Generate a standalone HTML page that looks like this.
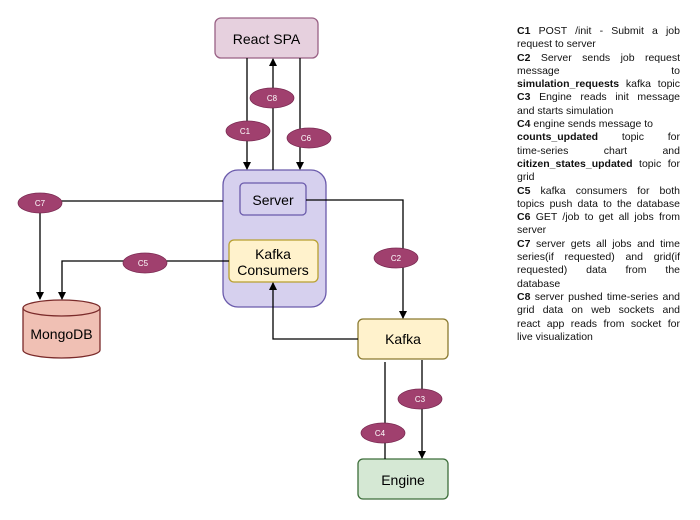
<!DOCTYPE html>
<html><head><style>
body{margin:0;width:700px;height:520px;background:#fff;position:relative;overflow:hidden;font-family:"Liberation Sans",sans-serif}
svg{position:absolute;left:0;top:0}
#t{position:absolute;left:517px;top:25px;width:163px;font-size:10.5px;line-height:13.3px;color:#111}
#t div{white-space:nowrap;height:13.3px}
#t .j{text-align:justify;text-align-last:justify;white-space:normal;overflow:hidden}
</style></head><body>
<svg width="700" height="520" viewBox="0 0 700 520">
<defs><marker id="a" markerWidth="8" markerHeight="8" refX="7" refY="4" orient="auto" markerUnits="userSpaceOnUse"><path d="M0,0 L8,4 L0,8 z" fill="#000"/></marker></defs>
<g font-family="Liberation Sans, sans-serif">
<rect x="215" y="18" width="103" height="40" rx="6" fill="#e6d0de" stroke="#996185" stroke-width="1.3"/>
<text x="266.5" y="44" font-size="14" text-anchor="middle">React SPA</text>
<rect x="223" y="170" width="103" height="137" rx="15" fill="#d6d0ee" stroke="#6a5aab" stroke-width="1.3"/>
<rect x="240" y="183" width="66" height="32" rx="4" fill="#d6d0ee" stroke="#6a5aab" stroke-width="1.3"/>
<text x="273" y="205" font-size="14" text-anchor="middle">Server</text>
<rect x="229" y="240" width="89" height="42" rx="5" fill="#fff2cc" stroke="#b8a030" stroke-width="1.3"/>
<text x="273" y="259" font-size="14" text-anchor="middle">Kafka</text>
<text x="273" y="275" font-size="14" text-anchor="middle">Consumers</text>
<rect x="358" y="319" width="90" height="40" rx="5" fill="#fff2cc" stroke="#8a7a30" stroke-width="1.3"/>
<text x="403" y="344" font-size="14" text-anchor="middle">Kafka</text>
<rect x="358" y="459" width="90" height="40" rx="5" fill="#d5e8d4" stroke="#3d6e3a" stroke-width="1.3"/>
<text x="403" y="485" font-size="14" text-anchor="middle">Engine</text>
<path d="M23,308 L23,350 A38.5,8 0 0 0 100,350 L100,308" fill="#f0c0b4" stroke="#7a2a2a" stroke-width="1.3"/>
<ellipse cx="61.5" cy="308" rx="38.5" ry="8" fill="#f0c0b4" stroke="#7a2a2a" stroke-width="1.3"/>
<text x="61.5" y="339" font-size="14" text-anchor="middle">MongoDB</text>
<g stroke="#000" stroke-width="1.3" fill="none">
<path d="M247,58 V169" marker-end="url(#a)"/>
<path d="M273,170 V59" marker-end="url(#a)"/>
<path d="M300,58 V169" marker-end="url(#a)"/>
<path d="M223,201 H40 V299" marker-end="url(#a)"/>
<path d="M229,261 H62 V299" marker-end="url(#a)"/>
<path d="M306,200 H403 V318" marker-end="url(#a)"/>
<path d="M358,339 H273 V283" marker-end="url(#a)"/>
<path d="M385,362 V459"/>
<path d="M422,360 V458" marker-end="url(#a)"/>
</g>
<g fill="#a0406e" stroke="#7a2a52" stroke-width="0.8">
<ellipse cx="272" cy="98" rx="22" ry="10"/>
<ellipse cx="248" cy="131" rx="22" ry="10"/>
<ellipse cx="309" cy="138" rx="22" ry="10"/>
<ellipse cx="40" cy="203" rx="22" ry="10"/>
<ellipse cx="145" cy="263" rx="22" ry="10"/>
<ellipse cx="396" cy="258" rx="22" ry="10"/>
<ellipse cx="420" cy="399" rx="22" ry="10"/>
<ellipse cx="383" cy="433" rx="22" ry="10"/>
</g>
<g fill="#fff" font-size="8" text-anchor="middle">
<text x="272" y="101">C8</text><text x="245" y="134">C1</text><text x="306" y="141">C6</text>
<text x="40" y="206">C7</text><text x="143" y="266">C5</text><text x="396" y="261">C2</text>
<text x="420" y="402">C3</text><text x="380" y="436">C4</text>
</g>
</g>
</svg>
<div id="t">
<div class="j"><b>C1</b> POST /init - Submit a job</div>
<div>request to server</div>
<div class="j"><b>C2</b> Server sends job request</div>
<div class="j">message to</div>
<div class="j"><b>simulation_requests</b> kafka topic</div>
<div class="j"><b>C3</b> Engine reads init message</div>
<div>and starts simulation</div>
<div><b>C4</b> engine sends message to</div>
<div class="j"><b>counts_updated</b> topic for</div>
<div class="j">time-series chart and</div>
<div class="j"><b>citizen_states_updated</b> topic for</div>
<div>grid</div>
<div class="j"><b>C5</b> kafka consumers for both</div>
<div class="j">topics push data to the database</div>
<div class="j"><b>C6</b> GET /job to get all jobs from</div>
<div>server</div>
<div class="j"><b>C7</b> server gets all jobs and time</div>
<div class="j">series(if requested) and grid(if</div>
<div class="j">requested) data from the</div>
<div>database</div>
<div class="j"><b>C8</b> server pushed time-series and</div>
<div class="j">grid data on web sockets and</div>
<div class="j">react app reads from socket for</div>
<div>live visualization</div>
</div>
</body></html>
